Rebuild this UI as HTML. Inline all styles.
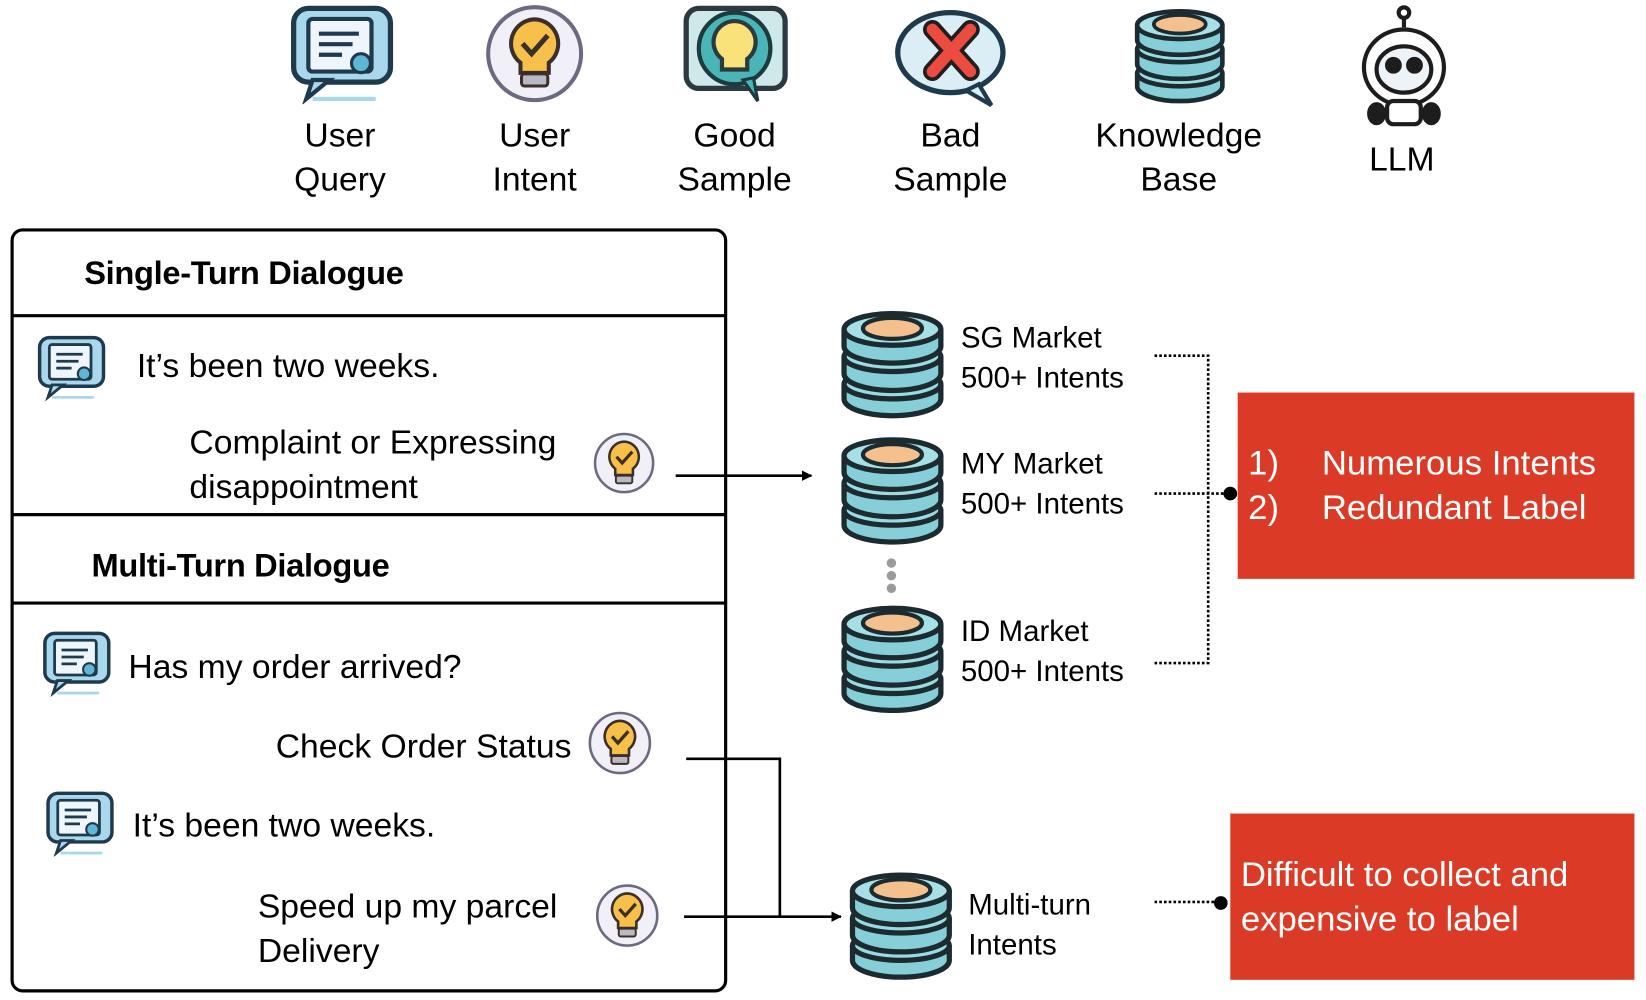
<!DOCTYPE html>
<html><head><meta charset="utf-8"><style>
html,body{margin:0;padding:0;background:#fff;width:1646px;height:1000px;overflow:hidden}
#s{position:absolute;left:0;top:0;width:1564px;height:950px;transform:scale(1.05243);transform-origin:0 0;font-family:"Liberation Sans",sans-serif;color:#000}
.t{position:absolute;white-space:nowrap;line-height:1}
.c{text-align:center;transform:translateX(-50%)}
svg{position:absolute;left:0;top:0}
</style></head><body><div id="s">
<svg width="1564" height="950" viewBox="0 0 1564 950">
<defs>
<symbol id="db" viewBox="0 0 100 105">
 <g stroke="#1c2b2f" stroke-width="5">
  <path d="M4 72 v14 a46 16 0 0 0 92 0 v-14" fill="#86cfd8"/>
  <ellipse cx="50" cy="72" rx="46" ry="14" fill="#9adbe2"/>
  <path d="M4 46 v16 a46 16 0 0 0 92 0 v-16" fill="#86cfd8"/>
  <ellipse cx="50" cy="46" rx="46" ry="14" fill="#9adbe2"/>
  <path d="M4 20 v16 a46 16 0 0 0 92 0 v-16" fill="#86cfd8"/>
  <ellipse cx="50" cy="20" rx="46" ry="15" fill="#a6e0e6"/>
  <ellipse cx="50" cy="19" rx="28" ry="10" fill="#f3c08e" stroke-width="4"/>
 </g>
</symbol>
<symbol id="q" viewBox="0 0 100 95">
 <rect x="4" y="4" width="92" height="70" rx="14" fill="#a9d8ec" stroke="#1f3a4d" stroke-width="5"/>
 <path d="M22 72 l-6 18 l22 -18z" fill="#a9d8ec" stroke="#1f3a4d" stroke-width="4"/>
 <rect x="18" y="14" width="60" height="50" rx="4" fill="#eef6fb" stroke="#1f3a4d" stroke-width="4"/>
 <g stroke="#1f3a4d" stroke-width="4"><line x1="28" y1="28" x2="66" y2="28"/><line x1="28" y1="38" x2="60" y2="38"/><line x1="28" y1="48" x2="50" y2="48"/></g>
 <circle cx="68" cy="56" r="9" fill="#5fb7d6" stroke="#1f3a4d" stroke-width="3"/>
 <rect x="22" y="88" width="60" height="4" fill="#a9d8ec"/>
</symbol>
<symbol id="b" viewBox="0 0 100 100">
 <circle cx="50" cy="50" r="46" fill="#f1f0f8" stroke="#6c6a80" stroke-width="4"/>
 <path d="M50 16 a24 24 0 0 1 14 43 v10 h-28 v-10 a24 24 0 0 1 14 -43z" fill="#f7c04a" stroke="#3a2f2a" stroke-width="4"/>
 <path d="M38 40 l9 10 l16 -18" fill="none" stroke="#3a2f2a" stroke-width="5"/>
 <rect x="37" y="70" width="26" height="12" rx="3" fill="#b9b9c4" stroke="#3a2f2a" stroke-width="3"/>
</symbol>
<marker id="ar" markerWidth="10" markerHeight="10" refX="9" refY="5" orient="auto" markerUnits="userSpaceOnUse"><path d="M0 0 L16 5 L0 10z" transform="scale(0.62,1)" fill="#000"/></marker>
</defs>
<use href="#q" x="275" y="4" width="100" height="95"/>
<use href="#b" x="460" y="3" width="96" height="96"/>
<g transform="translate(650,6)">
 <rect x="2" y="2" width="94" height="76" rx="12" fill="#cfe9ea" stroke="#2a3a3f" stroke-width="5"/>
 <circle cx="48" cy="40" r="34" fill="#4ab5b6" stroke="#1d3a3c" stroke-width="4"/>
 <path d="M48 14 a20 20 0 0 1 12 36 v10 h-24 v-10 a20 20 0 0 1 12 -36z" fill="#f9e27a" stroke="#2a3a3f" stroke-width="4"/>
 <path d="M56 70 l14 20 l-4 -22z" fill="#4ab5b6" stroke="#1d3a3c" stroke-width="3"/>
</g>
<g transform="translate(850,10)">
 <ellipse cx="53" cy="40" rx="50" ry="38" fill="#dbeef5" stroke="#1f3a4d" stroke-width="5"/>
 <path d="M80 70 l12 20 l-24 -14z" fill="#dbeef5" stroke="#1f3a4d" stroke-width="4"/>
 <path d="M36 18 l36 40 M72 18 l-36 40" stroke="#1f1f1f" stroke-width="18" stroke-linecap="round"/>
 <path d="M36 18 l36 40 M72 18 l-36 40" stroke="#ec4b3f" stroke-width="11" stroke-linecap="round"/>
</g>
<use href="#db" x="1077" y="5" width="88" height="95"/>
<g transform="translate(1290,4)" stroke="#1d1d1d" stroke-width="4" fill="#fff">
 <line x1="44" y1="10" x2="44" y2="22"/><circle cx="44" cy="8" r="5"/>
 <ellipse cx="44" cy="60" rx="38" ry="36"/>
 <ellipse cx="44" cy="62" rx="26" ry="22" fill="#eef3f7"/>
 <circle cx="34" cy="58" r="6" fill="#1d1d1d"/><circle cx="54" cy="58" r="6" fill="#1d1d1d"/>
 <rect x="28" y="92" width="32" height="22" rx="6"/>
 <ellipse cx="18" cy="104" rx="7" ry="9" fill="#1d1d1d"/><ellipse cx="70" cy="104" rx="7" ry="9" fill="#1d1d1d"/>
</g>
<rect x="11.5" y="218.5" width="678" height="723" rx="10" fill="none" stroke="#000" stroke-width="3"/>
<g stroke="#000" stroke-width="3"><line x1="11" y1="300" x2="690" y2="300"/><line x1="11" y1="489" x2="690" y2="489"/><line x1="11" y1="573" x2="690" y2="573"/></g>
<use href="#q" x="35" y="318" width="66" height="63"/>
<use href="#b" x="563" y="410" width="60" height="60"/>
<use href="#q" x="40" y="599" width="66" height="63"/>
<use href="#b" x="558" y="675" width="62" height="62"/>
<use href="#q" x="43" y="751" width="66" height="63"/>
<use href="#b" x="565" y="839" width="62" height="62"/>
<g stroke="#000" stroke-width="2.5" fill="none">
 <line x1="642" y1="452" x2="771" y2="452" marker-end="url(#ar)"/>
 <polyline points="652,721 741,721 741,871"/>
 <line x1="650" y1="871" x2="799" y2="871" marker-end="url(#ar)"/>
</g>
<use href="#db" x="798" y="293" width="100" height="105"/>
<use href="#db" x="798" y="413" width="100" height="105"/>
<use href="#db" x="798" y="573" width="100" height="105"/>
<use href="#db" x="806" y="826" width="100" height="106"/>
<g fill="#9a9a9a"><circle cx="847" cy="535" r="4.5"/><circle cx="847" cy="547" r="4.5"/><circle cx="847" cy="559" r="4.5"/></g>
<g stroke="#000" stroke-width="2.5" fill="none" stroke-dasharray="2.5 2">
 <polyline points="1097,338 1148,338 1148,630 1097,630"/>
 <line x1="1097" y1="469" x2="1168" y2="469"/>
 <line x1="1097" y1="857" x2="1158" y2="857"/>
</g>
<circle cx="1169" cy="469" r="6.5" fill="#000"/>
<circle cx="1160" cy="858" r="6.5" fill="#000"/>
<rect x="1176" y="373" width="377" height="177" fill="#db3a26"/>
<rect x="1169" y="773" width="384" height="158" fill="#db3a26"/>
</svg>
<div class="t c" style="left:323px;top:107px;font-size:32px;line-height:42px">User<br>Query</div>
<div class="t c" style="left:508px;top:107px;font-size:32px;line-height:42px">User<br>Intent</div>
<div class="t c" style="left:698px;top:107px;font-size:32px;line-height:42px">Good<br>Sample</div>
<div class="t c" style="left:903px;top:107px;font-size:32px;line-height:42px">Bad<br>Sample</div>
<div class="t c" style="left:1120px;top:107px;font-size:32px;line-height:42px">Knowledge<br>Base</div>
<div class="t c" style="left:1332px;top:135px;font-size:32px">LLM</div>
<div class="t" style="left:80px;top:244px;font-size:31px;font-weight:bold;letter-spacing:-0.3px">Single-Turn Dialogue</div>
<div class="t" style="left:130px;top:331px;font-size:32px">It’s been two weeks.</div>
<div class="t" style="left:180px;top:399px;font-size:32px;line-height:42px">Complaint or Expressing<br>disappointment</div>
<div class="t" style="left:87px;top:522px;font-size:31px;font-weight:bold;letter-spacing:-0.3px">Multi-Turn Dialogue</div>
<div class="t" style="left:122px;top:617px;font-size:32px">Has my order arrived?</div>
<div class="t" style="left:262px;top:693px;font-size:32px">Check Order Status</div>
<div class="t" style="left:126px;top:768px;font-size:32px">It’s been two weeks.</div>
<div class="t" style="left:245px;top:840px;font-size:32px;line-height:42px">Speed up my parcel<br>Delivery</div>
<div class="t" style="left:913px;top:302px;font-size:28px;line-height:38px">SG Market<br>500+ Intents</div>
<div class="t" style="left:913px;top:422px;font-size:28px;line-height:38px">MY Market<br>500+ Intents</div>
<div class="t" style="left:913px;top:581px;font-size:28px;line-height:38px">ID Market<br>500+ Intents</div>
<div class="t" style="left:920px;top:841px;font-size:28px;line-height:38px">Multi-turn<br>Intents</div>
<div class="t" style="left:1186px;top:419px;font-size:33px;line-height:42px;color:#fff">1)<br>2)</div>
<div class="t" style="left:1256px;top:419px;font-size:33px;line-height:42px;color:#fff">Numerous Intents<br>Redundant Label</div>
<div class="t" style="left:1179px;top:810px;font-size:33px;line-height:42px;color:#fff">Difficult to collect and<br>expensive to label</div>
</div></body></html>
